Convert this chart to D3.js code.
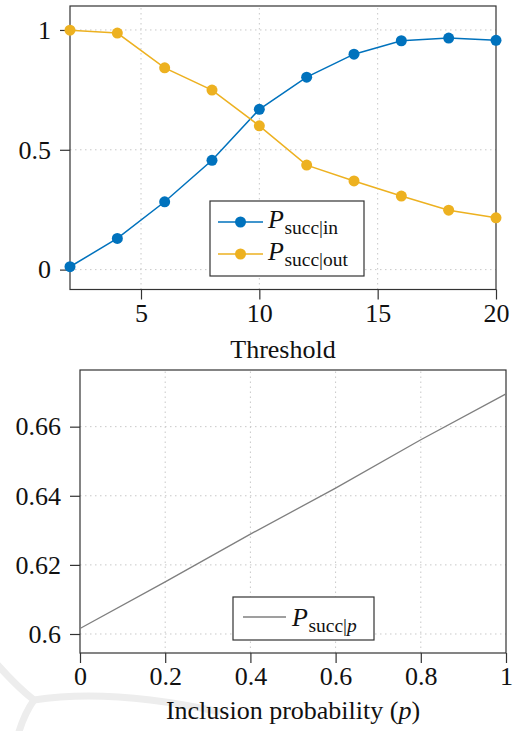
<!DOCTYPE html>
<html>
<head>
<meta charset="utf-8">
<script src="https://cdn.jsdelivr.net/npm/d3@7"></script>
<style>
  body { margin: 0; background: #fff; }
  text { font-family: 'Liberation Serif', 'Times New Roman', serif; fill: #111; }
</style>
</head>
<body>
<div id="container"></div>
<script>
// top chart data
const thresholds = [2, 4, 6, 8, 10, 12, 14, 16, 18, 20];
const succIn = [0.012, 0.13, 0.283, 0.456, 0.669, 0.803, 0.899, 0.955, 0.966, 0.957];
const succOut = [0.999, 0.987, 0.842, 0.749, 0.6, 0.436, 0.37, 0.307, 0.248, 0.216];
const topXTicks = [5, 10, 15, 20];
const topYTicks = [0, 0.5, 1];

// bottom chart data
const inclusionProb = [0, 0.2, 0.4, 0.6, 0.8, 1];
const succP = [0.6016, 0.6151, 0.6289, 0.6422, 0.6562, 0.6695];
const bottomXTicks = [0, 0.2, 0.4, 0.6, 0.8, 1];
const bottomYTicks = [0.6, 0.62, 0.64, 0.66];

const blue = '#0072BD';
const orange = '#EDB120';
const axisColor = '#333';
const gridColor = '#c8c8c8';
const fontSize = 26;

const svg = d3
  .select('#container')
  .append('svg')
  .attr('width', 515)
  .attr('height', 731);

// faint watermark in the lower left corner
const mark = svg.append('g').attr('fill', 'none').attr('stroke', '#ededed').attr('stroke-width', 7);
mark.append('path').attr('d', 'M-5,662 Q18,688 34,700');
mark.append('path').attr('d', 'M34,700 Q110,688 220,712');
mark.append('path').attr('d', 'M34,700 Q24,714 18,735');

function drawFrame(g, x, y, xTicks, yTicks, fmtX, fmtY) {
  const [x0, x1] = x.range();
  const [y0, y1] = y.range();

  // dotted grid
  g.append('g')
    .selectAll('line')
    .data(xTicks.filter((d) => x(d) > x0 + 1 && x(d) < x1 - 1))
    .enter()
    .append('line')
    .attr('x1', (d) => x(d))
    .attr('x2', (d) => x(d))
    .attr('y1', y0)
    .attr('y2', y1)
    .attr('stroke', gridColor)
    .attr('stroke-dasharray', '1.5,3.5');
  g.append('g')
    .selectAll('line')
    .data(yTicks)
    .enter()
    .append('line')
    .attr('x1', x0)
    .attr('x2', x1)
    .attr('y1', (d) => y(d))
    .attr('y2', (d) => y(d))
    .attr('stroke', gridColor)
    .attr('stroke-dasharray', '1.5,3.5');

  // box
  g.append('rect')
    .attr('x', x0)
    .attr('y', y1)
    .attr('width', x1 - x0)
    .attr('height', y0 - y1)
    .attr('fill', 'none')
    .attr('stroke', axisColor)
    .attr('stroke-width', 1.2);

  const xAxis = g
    .append('g')
    .attr('transform', 'translate(0,' + y0 + ')')
    .call(d3.axisBottom(x).tickValues(xTicks).tickSize(10).tickSizeOuter(0).tickPadding(4).tickFormat(fmtX));
  const yAxis = g
    .append('g')
    .attr('transform', 'translate(' + x0 + ',0)')
    .call(d3.axisLeft(y).tickValues(yTicks).tickSize(10).tickSizeOuter(0).tickPadding(9).tickFormat(fmtY));

  [xAxis, yAxis].forEach((a) => {
    a.select('.domain').remove();
    a.selectAll('line').attr('stroke', axisColor).attr('stroke-width', 1.2);
    a.selectAll('text')
      .attr('font-family', "'Liberation Serif', serif")
      .attr('font-size', fontSize)
      .attr('fill', '#111');
  });
}

// label like P_{succ|in}
function mathLabel(g, x, y, sub, italicSub) {
  const t = g.append('text').attr('x', x).attr('y', y).attr('font-size', fontSize);
  t.append('tspan').attr('font-style', 'italic').text('P');
  const s = t.append('tspan').attr('font-size', 19.5).attr('dy', 6).attr('dx', 0.5);
  s.append('tspan').text('succ|');
  s.append('tspan').attr('font-style', italicSub ? 'italic' : 'normal').text(sub);
}

// ---------- top chart ----------
const xTop = d3.scaleLinear().domain([2, 20]).range([70, 496]);
const yTop = d3.scaleLinear().domain([-0.083, 1.1]).range([289.5, 6]);
const topChart = svg.append('g');

drawFrame(topChart, xTop, yTop, topXTicks, topYTicks, d3.format('d'), (d) => String(d));

topChart.append('text')
  .attr('x', (xTop.range()[0] + xTop.range()[1]) / 2)
  .attr('y', 358)
  .attr('text-anchor', 'middle')
  .attr('font-size', fontSize)
  .text('Threshold');

const series = [
  { name: 'in', values: succIn, color: blue },
  { name: 'out', values: succOut, color: orange },
];

const line = d3
  .line()
  .x((d, i) => xTop(thresholds[i]))
  .y((d) => yTop(d));

series.forEach((s) => {
  topChart.append('path')
    .attr('d', line(s.values))
    .attr('fill', 'none')
    .attr('stroke', s.color)
    .attr('stroke-width', 1.5);
  topChart.append('g')
    .selectAll('circle')
    .data(s.values)
    .enter()
    .append('circle')
    .attr('cx', (d, i) => xTop(thresholds[i]))
    .attr('cy', (d) => yTop(d))
    .attr('r', 5.5)
    .attr('fill', s.color);
});

const legendTop = topChart.append('g');
legendTop.append('rect')
  .attr('x', 210)
  .attr('y', 201)
  .attr('width', 154)
  .attr('height', 75)
  .attr('fill', '#fff')
  .attr('stroke', axisColor)
  .attr('stroke-width', 1.2);
series.forEach((s, i) => {
  const ry = 222 + i * 32;
  legendTop.append('line')
    .attr('x1', 218)
    .attr('x2', 263)
    .attr('y1', ry)
    .attr('y2', ry)
    .attr('stroke', s.color)
    .attr('stroke-width', 1.5);
  legendTop.append('circle').attr('cx', 240.5).attr('cy', ry).attr('r', 5.5).attr('fill', s.color);
  mathLabel(legendTop, 268, ry + 6, s.name, false);
});

// ---------- bottom chart ----------
const xBot = d3.scaleLinear().domain([0, 1]).range([80, 506]);
const yBot = d3.scaleLinear().domain([0.5945, 0.6764]).range([653, 370]);
const bottomChart = svg.append('g');

drawFrame(bottomChart, xBot, yBot, bottomXTicks, bottomYTicks, (d) => String(d), (d) => String(d));

const botLabel = bottomChart.append('text')
  .attr('x', (xBot.range()[0] + xBot.range()[1]) / 2)
  .attr('y', 719)
  .attr('text-anchor', 'middle')
  .attr('font-size', fontSize);
botLabel.append('tspan').text('Inclusion probability (');
botLabel.append('tspan').attr('font-style', 'italic').text('p');
botLabel.append('tspan').text(')');

bottomChart.append('path')
  .attr('d', d3.line().x((d, i) => xBot(inclusionProb[i])).y((d) => yBot(d))(succP))
  .attr('fill', 'none')
  .attr('stroke', '#7f7f7f')
  .attr('stroke-width', 1.3);

const legendBot = bottomChart.append('g');
legendBot.append('rect')
  .attr('x', 233)
  .attr('y', 597)
  .attr('width', 141)
  .attr('height', 43)
  .attr('fill', '#fff')
  .attr('stroke', axisColor)
  .attr('stroke-width', 1.2);
legendBot.append('line')
  .attr('x1', 243)
  .attr('x2', 286)
  .attr('y1', 617)
  .attr('y2', 617)
  .attr('stroke', '#7f7f7f')
  .attr('stroke-width', 1.3);
mathLabel(legendBot, 292, 626, 'p', true);
</script>
</body>
</html>
